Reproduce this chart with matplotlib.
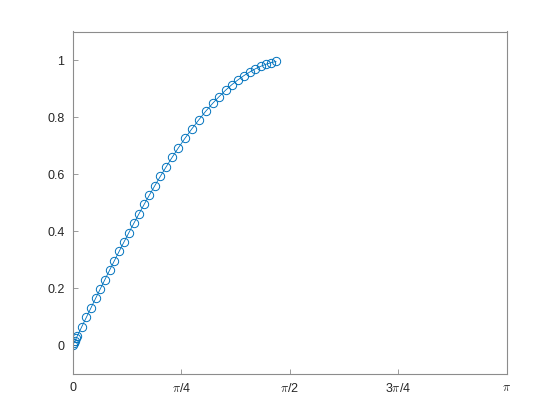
import matplotlib
matplotlib.use("Agg")
import matplotlib.pyplot as plt

# values (points lie along y = sin(x))
x_vals = [0.0, 0.008, 0.016, 0.024, 0.032, 0.0650, 0.0982, 0.1314, 0.1647, 0.1983,
          0.2321, 0.2661, 0.3005, 0.3353, 0.3704, 0.4061, 0.4423, 0.4791, 0.5166, 0.5549,
          0.5944, 0.6347, 0.6763, 0.7193, 0.7640, 0.8110, 0.8606, 0.9117, 0.9613, 1.0122,
          1.0597, 1.1057, 1.1496, 1.1944, 1.2376, 1.2810, 1.3205, 1.3606, 1.3972, 1.4366,
          1.4708]
y_vals = [0.0, 0.008, 0.016, 0.024, 0.032, 0.065, 0.098, 0.131, 0.164, 0.197,
          0.230, 0.263, 0.296, 0.329, 0.362, 0.395, 0.428, 0.461, 0.494, 0.527,
          0.560, 0.593, 0.626, 0.659, 0.692, 0.725, 0.758, 0.790, 0.820, 0.848,
          0.872, 0.894, 0.913, 0.930, 0.945, 0.958, 0.969, 0.978, 0.985, 0.991,
          0.995]

pi = 3.141592653589793
x_ticks = [0, pi / 4, pi / 2, 3 * pi / 4, pi]
x_labels = ["0", r"$\pi$/4", r"$\pi$/2", r"3$\pi$/4", r"$\pi$"]
y_ticks = [0, 0.2, 0.4, 0.6, 0.8, 1]
y_labels = ["0", "0.2", "0.4", "0.6", "0.8", "1"]

plt.rcParams["font.family"] = ["Liberation Sans", "DejaVu Sans"]
plt.rcParams["mathtext.fontset"] = "cm"

fig = plt.figure(figsize=(5.6, 4.2), dpi=100)
ax = fig.add_axes([0.13, 0.11, 0.775, 0.815])

ax.plot(x_vals, y_vals, "-o", color="#0072BD", linewidth=0.6,
        markersize=6, markerfacecolor="none", markeredgewidth=0.7)

ax.set_xlim(0, pi)
ax.set_ylim(-0.1, 1.1)
ax.set_xticks(x_ticks)
ax.set_xticklabels(x_labels)
ax.set_yticks(y_ticks)
ax.set_yticklabels(y_labels)

edge = (0.15, 0.15, 0.15)
for side in ax.spines.values():
    side.set_color("#8c8c8c")
    side.set_linewidth(0.8)
ax.tick_params(direction="in", length=3.5, width=0.6, colors="#8c8c8c",
               labelcolor=edge, labelsize=9, top=False, right=False, pad=6)

fig.savefig("out.png", dpi=100, facecolor="white")
